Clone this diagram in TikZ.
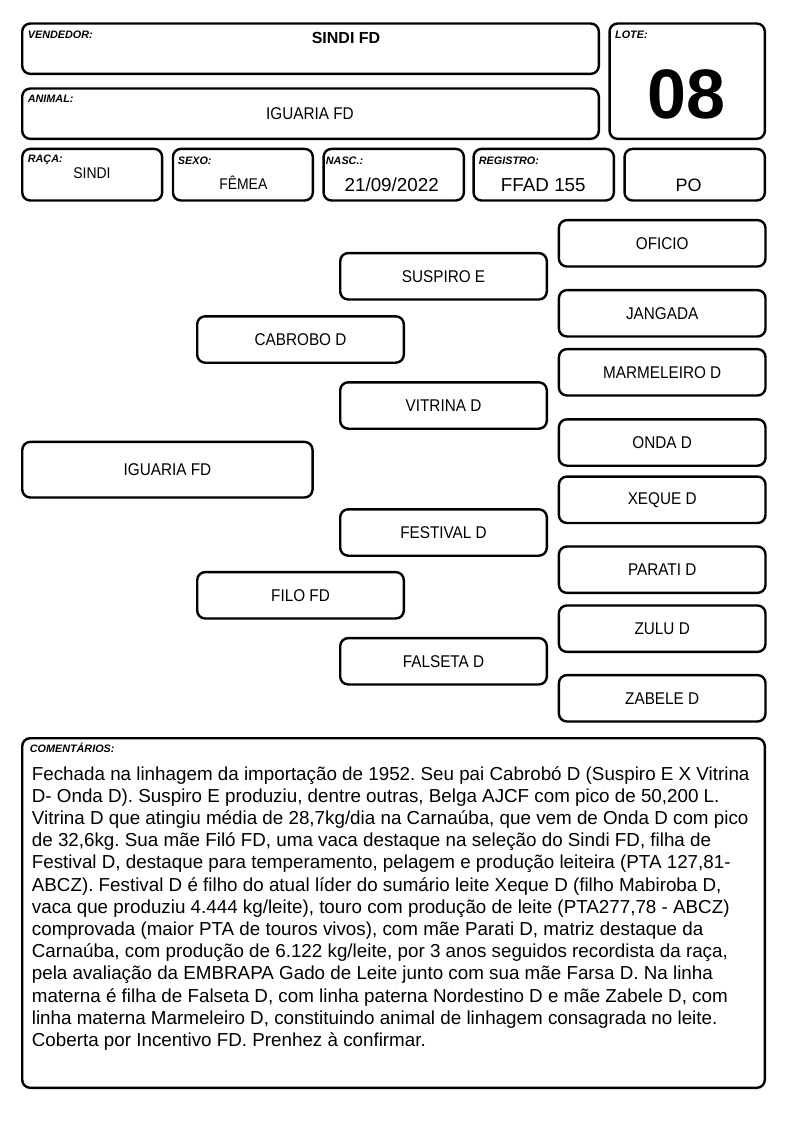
\documentclass[tikz,border=0pt]{standalone}
\usepackage{fontspec}
\setmainfont{Liberation Sans}
\newfontfamily\estreita[FakeStretch=0.9]{Liberation Sans}
\usetikzlibrary{positioning}
\frenchspacing

\tikzset{
   caixa/.style={draw, line width=2.4pt, rounded corners=8pt, inner sep=0pt},
   pedbox/.style={caixa, minimum width=206.6pt, minimum height=46.4pt, font=\estreita\fontsize{17}{19}\selectfont},
   rotulo/.style={anchor=base west, inner sep=0pt, font=\fontsize{10.8}{12}\selectfont\bfseries\itshape},
   valor/.style={anchor=base, inner sep=0pt, font=\fontsize{18.8}{22}\selectfont},
   comtexto/.style={anchor=base west, inner sep=0pt, font=\fontsize{18.8}{22.2}\selectfont},
}

\begin{document}
\begin{tikzpicture}[x=1pt, y=-1pt]
\useasboundingbox (0,0) rectangle (794,1123);

% cabecalho
\node[caixa, minimum width=576.6pt, minimum height=50.3pt] (vendedor) at (310.5,48.7) {};
\node[caixa, minimum width=576.6pt, minimum height=50.3pt] (animalbox) at (310.5,113.7) {};
\node[caixa, minimum width=155.3pt, minimum height=115.3pt] (lote) at (687.2,81.2) {};
\node[caixa, minimum width=139.9pt, minimum height=51.6pt] (raca) at (92.2,174.7) {};
\node[caixa, minimum width=139.9pt, minimum height=51.6pt] (sexo) at (242.9,174.7) {};
\node[caixa, minimum width=140.3pt, minimum height=51.6pt] (nasc) at (393.7,174.7) {};
\node[caixa, minimum width=140.3pt, minimum height=51.6pt] (registro) at (543.7,174.7) {};
\node[caixa, minimum width=140.3pt, minimum height=51.6pt] (po) at (694.7,174.7) {};

\node[rotulo] (lvendedor) at (27.7,39) {VENDEDOR:};
\node[rotulo] (lanimal) at (27.7,102.7) {ANIMAL:};
\node[rotulo] (llote) at (615,39) {LOTE:};
\node[rotulo] (lraca) at (27.7,162.7) {RAÇA:};
\node[rotulo] (lsexo) at (177.7,165) {SEXO:};
\node[rotulo] (lnasc) at (325.7,165) {NASC.:};
\node[rotulo] (lregistro) at (478.7,165) {REGISTRO:};

\node[valor, font=\fontsize{16}{19}\selectfont\bfseries] (vvendedor) at (346,43.3) {SINDI FD};
\node[valor, font=\estreita\fontsize{17}{19}\selectfont] (vanimal) at (310,119.3) {IGUARIA FD};
\node[valor, font=\fontsize{70}{72}\selectfont\bfseries] (vlote) at (686.7,118.3) {08};
\node[valor, font=\estreita\fontsize{15.5}{18}\selectfont] (vraca) at (92,178.3) {SINDI};
\node[valor, font=\estreita\fontsize{15.5}{18}\selectfont] (vsexo) at (243.3,189.3) {FÊMEA};
\node[valor] (vnasc) at (391.7,191.7) {21/09/2022};
\node[valor] (vregistro) at (543.3,191.7) {FFAD 155};
\node[valor, font=\fontsize{18}{21}\selectfont] (vpo) at (688.7,191.7) {PO};

% genealogia
\node[pedbox, minimum width=290.3pt, minimum height=55.6pt] (iguaria) at (167.4,469.7) {IGUARIA FD};
\node[pedbox] (cabrobo) at (300.5,339.5) {CABROBO D};
\node[pedbox] (filo) at (300.5,595.3) {FILO FD};
\node[pedbox] (suspiro) at (443.5,276.3) {SUSPIRO E};
\node[pedbox] (vitrina) at (443.5,405.5) {VITRINA D};
\node[pedbox] (festival) at (443.5,532.5) {FESTIVAL D};
\node[pedbox] (falseta) at (443.5,661.3) {FALSETA D};
\node[pedbox] (oficio) at (662.2,243.3) {OFICIO};
\node[pedbox] (jangada) at (662.2,313.3) {JANGADA};
\node[pedbox] (marmeleiro) at (662.2,372.3) {MARMELEIRO D};
\node[pedbox] (onda) at (662.2,442.5) {ONDA D};
\node[pedbox] (xeque) at (662.2,499.8) {XEQUE D};
\node[pedbox] (parati) at (662.2,569.7) {PARATI D};
\node[pedbox] (zulu) at (662.2,628.7) {ZULU D};
\node[pedbox] (zabele) at (662.2,698.3) {ZABELE D};

% comentarios
\node[caixa, minimum width=742.6pt, minimum height=349.6pt] (comentarios) at (393.5,913) {};
\node[rotulo] (lcomentarios) at (29.7,752.7) {COMENTÁRIOS:};
\foreach \linha [count=\i from 0] in {
   {Fechada na linhagem da importação de 1952. Seu pai Cabrobó D (Suspiro E X Vitrina},
   {D- Onda D). Suspiro E produziu, dentre outras, Belga AJCF com pico de 50,200 L.},
   {Vitrina D que atingiu média de 28,7kg/dia na Carnaúba, que vem de Onda D com pico},
   {de 32,6kg. Sua mãe Filó FD, uma vaca destaque na seleção do Sindi FD, filha de},
   {Festival D, destaque para temperamento, pelagem e produção leiteira (PTA 127,81-},
   {ABCZ). Festival D é filho do atual líder do sumário leite Xeque D (filho Mabiroba D,},
   {vaca que produziu 4.444 kg/leite), touro com produção de leite (PTA277,78 - ABCZ)},
   {comprovada (maior PTA de touros vivos), com mãe Parati D, matriz destaque da},
   {Carnaúba, com produção de 6.122 kg/leite, por 3 anos seguidos recordista da raça,},
   {pela avaliação da EMBRAPA Gado de Leite junto com sua mãe Farsa D. Na linha},
   {materna é filha de Falseta D, com linha paterna Nordestino D e mãe Zabele D, com},
   {linha materna Marmeleiro D, constituindo animal de linhagem consagrada no leite.},
   {Coberta por Incentivo FD. Prenhez à confirmar.}}
   \node[comtexto] (com\i) at (31.7,780+22.2*\i) {\linha};
\end{tikzpicture}
\end{document}
